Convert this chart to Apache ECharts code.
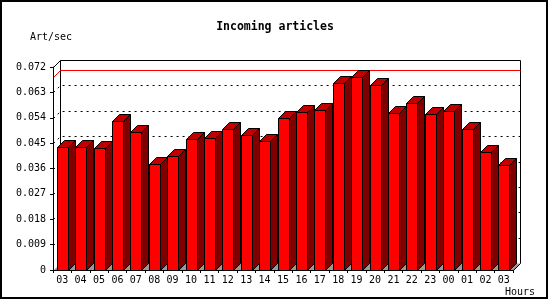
<!DOCTYPE html>
<html><head><meta charset="utf-8">
<script src="https://cdn.jsdelivr.net/npm/echarts@6/dist/echarts.min.js"></script>
<style>html,body{margin:0;padding:0;background:#fff}#c{width:550px;height:300px}</style>
</head><body><div id="c"></div>
<script>
const hours = ['03','04','05','06','07','08','09','10','11','12','13','14','15','16','17','18','19','20','21','22','23','00','01','02','03'];
const artPerSec = [0.0435,0.0435,0.0432,0.0527,0.0488,0.0375,0.0403,0.0465,0.0468,0.0500,0.0479,0.0458,0.0538,0.0560,0.0568,0.0662,0.0684,0.0656,0.0556,0.0592,0.0552,0.0564,0.0500,0.0419,0.0371];
const yTicks = [0,0.009,0.018,0.027,0.036,0.045,0.054,0.063,0.072];
const yMax = 0.072;
const titleText = 'Incoming articles';
const yName = 'Art/sec';
const xName = 'Hours';

const D = 7; // 3D depth offset
const FONT = '"DejaVu Sans Mono", "Liberation Mono", monospace';
const px = v => Math.round(v) + 0.5;

const chart = echarts.init(document.getElementById('c'), null, {renderer: 'canvas'});

function renderFrame(params, api) {
  const cs = params.coordSys;
  const x0 = px(cs.x), x1 = px(cs.x + cs.width), yb = px(cs.y + cs.height), yt = px(cs.y);
  return {type: 'group', children: [
    {type: 'polygon', shape: {points: [[x0, yb], [x1, yb], [x1 + D, yb - D], [x0 + D, yb - D]]},
      style: {fill: '#999999', stroke: null}},
    {type: 'line', shape: {x1: x0 + D, y1: yt - D, x2: x0 + D, y2: yb - D}, style: {stroke: '#000', lineWidth: 1}},
    {type: 'line', shape: {x1: x1 + D, y1: yt - D, x2: x1 + D, y2: yb - D}, style: {stroke: '#000', lineWidth: 1}},
    {type: 'line', shape: {x1: x1 + D, y1: yb - D, x2: x1, y2: yb}, style: {stroke: '#000', lineWidth: 1}}
  ]};
}

function renderBack(params, api) {
  const v = api.value(0);
  const cs = params.coordSys;
  if (v === 0) return null;
  const y = px(api.coord([0, v])[1]);
  const x0 = px(cs.x), x1 = px(cs.x + cs.width);
  const top = Math.abs(v - yMax) < 1e-9;
  return {type: 'polyline', shape: {points: [[x0, y], [x0 + D, y - D], [x1 + D, y - D]]},
    style: {stroke: '#000', lineWidth: 1, fill: null, lineDash: top ? null : [2, 4]}};
}

function renderMax(params, api) {
  const v = api.value(0);
  const cs = params.coordSys;
  const y = px(api.coord([0, v])[1]);
  const x0 = px(cs.x), x1 = px(cs.x + cs.width);
  return {type: 'polyline', shape: {points: [[x0, y], [x0 + D, y - D], [x1 + D, y - D]]},
    style: {stroke: '#ff0000', lineWidth: 1, fill: null}};
}

function renderBar(params, api) {
  const i = api.value(0), v = api.value(1);
  const topP = api.coord([i, v]);
  const baseP = api.coord([i, 0]);
  const band = api.size([1, 0])[0];
  const w = Math.round(band * 0.6);
  const xl = px(topP[0] - w / 2), xr = xl + w;
  const yt = px(topP[1]), yb = px(baseP[1]);
  const st = {stroke: '#000', lineWidth: 1};
  return {type: 'group', children: [
    {type: 'polygon', shape: {points: [[xr, yb], [xr, yt], [xr + D, yt - D], [xr + D, yb - D]]},
      style: Object.assign({fill: '#800000'}, st)},
    {type: 'polygon', shape: {points: [[xl, yt], [xl + D, yt - D], [xr + D, yt - D], [xr, yt]]},
      style: Object.assign({fill: '#c00000'}, st)},
    {type: 'rect', shape: {x: xl, y: yt, width: w, height: yb - yt},
      style: Object.assign({fill: '#ff0000'}, st)}
  ]};
}

const maxVal = Math.max.apply(null, artPerSec);

chart.setOption({
  animation: false,
  backgroundColor: '#fff',
  grid: {left: 53, right: 37, top: 67, bottom: 30, containLabel: false},
  xAxis: {
    type: 'category', data: hours, boundaryGap: true, z: 6,
    axisLine: {lineStyle: {color: '#000', width: 1}},
    axisTick: {show: true, alignWithLabel: false, interval: 0, length: 3, lineStyle: {color: '#000'}},
    axisLabel: {interval: 0, margin: 5, color: '#000', fontFamily: FONT, fontSize: 10},
    splitLine: {show: false}
  },
  yAxis: {
    type: 'value', min: 0, max: yMax, interval: 0.009, z: 6,
    axisLine: {show: true, lineStyle: {color: '#000', width: 1}},
    axisTick: {show: true, length: 3, lineStyle: {color: '#000'}},
    axisLabel: {margin: 7, color: '#000', fontFamily: FONT, fontSize: 10,
      formatter: v => v === 0 ? '0' : v.toFixed(3)},
    splitLine: {show: false}
  },
  graphic: [
    {type: 'rect', shape: {x: 1, y: 1, width: 546, height: 297}, style: {fill: null, stroke: '#000', lineWidth: 2}, z: 10},
    {type: 'text', x: 275, y: 27, style: {text: titleText, align: 'center', verticalAlign: 'middle', fontFamily: FONT, fontWeight: 'bold', fontSize: 11.5, fill: '#000'}},
    {type: 'text', x: 30, y: 37, style: {text: yName, align: 'left', verticalAlign: 'middle', fontFamily: FONT, fontSize: 10, fill: '#000'}},
    {type: 'text', x: 505, y: 292, style: {text: xName, align: 'left', verticalAlign: 'middle', fontFamily: FONT, fontSize: 10, fill: '#000'}}
  ],
  series: [
    {type: 'custom', z: 1, silent: true, renderItem: renderFrame, data: [[0, 0]]},
    {type: 'custom', z: 2, silent: true, renderItem: renderBack, encode: {y: 0}, data: yTicks.map(v => [v])},
    {type: 'custom', z: 3, silent: true, renderItem: renderMax, encode: {y: 0}, data: [[maxVal]]},
    {type: 'custom', z: 4, silent: true, renderItem: renderBar, encode: {x: 0, y: 1},
      data: artPerSec.map((v, i) => [i, v])}
  ]
});
</script>
</body></html>
